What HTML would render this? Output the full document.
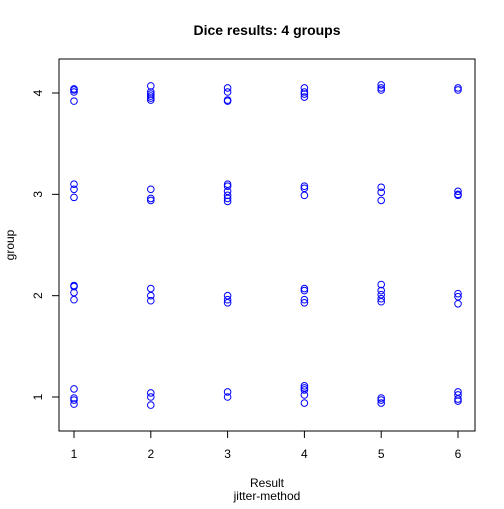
<!DOCTYPE html>
<html><head><meta charset="utf-8"><style>
body{margin:0;background:#fff}
svg text{font-family:"Liberation Sans",sans-serif;font-size:12px}
</style></head><body>
<svg id="c" width="504" height="504">
<text x="267" y="35" text-anchor="middle" font-weight="bold" style="font-size:14px">Dice results: 4 groups</text>
<rect x="59" y="59" width="416" height="372" fill="none" stroke="#000"/>
<text x="267" y="487" text-anchor="middle">Result</text>
<text x="267" y="500" text-anchor="middle">jitter-method</text>
<text transform="translate(14,245) rotate(-90)" text-anchor="middle">group</text>
<g id="ax"></g><g id="pts"></g>
</svg>
<script>
const xTicks=[1,2,3,4,5,6];
const yTicks=[1,2,3,4];
const results=[1,2,3,4,5,6];
const g4=[[4.04,4.03,4.01,3.92],[4.07,4.01,3.99,3.97,3.95,3.93],[4.05,4.01,3.93,3.92],[4.05,4.01,3.99,3.96],[4.08,4.05,4.03],[4.05,4.03]];
const g3=[[3.10,3.05,2.97],[3.05,2.96,2.94],[3.10,3.08,3.03,2.99,2.96,2.93],[3.08,3.06,2.99],[3.07,3.02,2.94],[3.03,3.00,2.99]];
const g2=[[2.10,2.09,2.03,1.96],[2.07,2.00,1.95],[2.00,1.96,1.93],[2.07,2.05,1.96,1.93],[2.11,2.05,2.01,1.97,1.94],[2.02,1.99,1.92]];
const g1=[[1.08,0.99,0.97,0.93],[1.04,1.00,0.92],[1.05,1.00],[1.11,1.09,1.07,1.02,0.94],[0.99,0.97,0.94],[1.05,1.02,0.98,0.96]];
const groups=[g1,g2,g3,g4];
const X=v=>74+(v-1)*76.8;
const Y=v=>397-(v-1)*101.33;
const NS="http://www.w3.org/2000/svg";
const ax=document.getElementById('ax'),pts=document.getElementById('pts');
function mk(t,a,p){const e=document.createElementNS(NS,t);for(const k in a)e.setAttribute(k,a[k]);p.appendChild(e);return e;}
xTicks.forEach(v=>{
 const l=mk('line',{x1:X(v),x2:X(v),y1:431,y2:438,stroke:'#000'},ax);
 
 
 const t=mk('text',{x:X(v),y:458,'text-anchor':'middle'},ax);t.textContent=v;
 
 
});
yTicks.forEach(v=>{
 const l=mk('line',{x1:52,x2:59,y1:Y(v),y2:Y(v),stroke:'#000'},ax);
 
 
 const t=mk('text',{transform:`translate(42,${Y(v)}) rotate(-90)`,'text-anchor':'middle'},ax);t.textContent=v;
 
 
});
groups.forEach(g=>g.forEach((arr,i)=>arr.forEach(v=>{
 const c=mk('circle',{cx:X(results[i]),cy:Y(v),r:3.3,fill:'none',stroke:'#0000ff'},pts);
 
 
})));
</script>
</body></html>
